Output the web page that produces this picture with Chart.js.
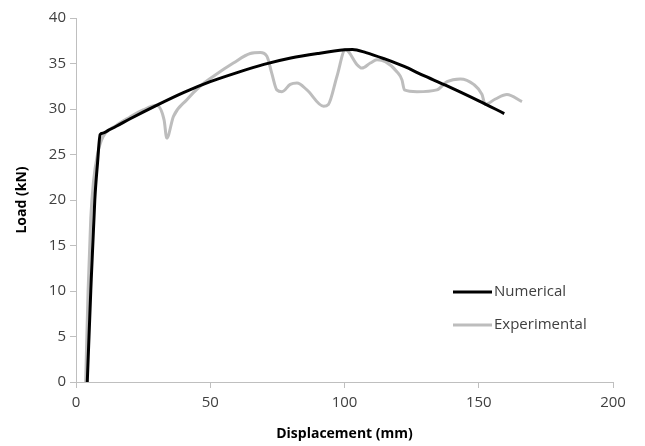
<!DOCTYPE html>
<html>
<head>
<meta charset="utf-8">
<script src="https://cdn.jsdelivr.net/npm/chart.js@4"></script>
<style>
  body { margin: 0; background: #fff; }
</style>
</head>
<body>
<canvas id="myChart" width="645" height="446"></canvas>
<script>
// Numerical curve (displacement mm, load kN)
const numX = [4.2, 5.5, 7, 8, 9, 10, 12, 15, 20, 30, 40, 50, 60, 70, 80, 90, 100, 103, 108, 115, 122, 130, 140, 150, 159.5];
const numY = [0, 10, 20, 24, 27.2, 27.35, 27.65, 28.1, 28.9, 30.4, 31.8, 33.0, 34.0, 34.9, 35.6, 36.1, 36.5, 36.55, 36.2, 35.5, 34.7, 33.6, 32.3, 30.9, 29.5];

// Experimental curve
const expX = [3.6, 4.5, 5.5, 6.5, 8, 10, 15, 20, 25, 30, 32.8, 33.8, 36.3, 41.2, 46.2, 51.2, 58.6, 64.9, 68.6, 71.1, 72.9, 74.8, 76.7, 79.8, 82.3, 86, 92.2, 94, 97.2, 100.3, 101.5, 104.6, 106.5, 109.6, 112.1, 115.2, 119.5, 121.4, 122.3, 127, 134.4, 138.2, 143.1, 148.1, 151.2, 152.4, 156.2, 160.5, 166.1];
const expY = [0, 10, 18, 22, 25, 26.9, 28.2, 29.1, 29.9, 30.4, 28.8, 26.8, 29.2, 31.0, 32.5, 33.6, 35.05, 36.1, 36.2, 35.8, 33.95, 32.1, 31.9, 32.7, 32.85, 32.1, 30.3, 30.5, 33.6, 36.5, 36.3, 34.9, 34.5, 35.05, 35.4, 35.2, 34.1, 33.2, 32.1, 31.9, 32.1, 33.0, 33.3, 32.7, 31.6, 30.5, 31.1, 31.6, 30.8];

const seriesNames = ['Numerical', 'Experimental'];
const xTicks = [0, 50, 100, 150, 200];
const yTicks = [0, 5, 10, 15, 20, 25, 30, 35, 40];

const toPoints = (xs, ys) => xs.map((x, i) => ({ x: x, y: ys[i] }));

const FONT = "'Open Sans', 'Liberation Sans', sans-serif";
const TEXT = '#404040';
const AXIS = '#bfbfbf';

// legend drawn inside the plot, bottom right
const insideLegend = {
    id: 'insideLegend',
    afterDraw(chart) {
        const c = chart.ctx;
        const rows = [
            { name: seriesNames[0], color: '#000000', y: 292 },
            { name: seriesNames[1], color: '#bdbdbd', y: 325 }
        ];
        c.save();
        c.font = '15px ' + FONT;
        c.textBaseline = 'middle';
        rows.forEach(r => {
            c.strokeStyle = r.color;
            c.lineWidth = 3;
            c.beginPath();
            c.moveTo(453, r.y);
            c.lineTo(492, r.y);
            c.stroke();
            c.fillStyle = TEXT;
            c.fillText(r.name, 494, r.y);
        });
        c.restore();
    }
};

const ctx = document.getElementById('myChart');
const chart = new Chart(ctx, {
    type: 'line',
    data: {
        datasets: [{
            label: seriesNames[0],
            data: toPoints(numX, numY),
            borderColor: '#000000',
            borderWidth: 3,
            pointRadius: 0,
            cubicInterpolationMode: 'monotone'
        }, {
            label: seriesNames[1],
            data: toPoints(expX, expY),
            borderColor: '#bdbdbd',
            borderWidth: 3,
            pointRadius: 0,
            cubicInterpolationMode: 'monotone'
        }]
    },
    options: {
        responsive: false,
        animation: false,
        layout: {
            padding: { left: 0, right: 32, top: 18, bottom: 0 }
        },
        plugins: {
            legend: { display: false },
            tooltip: { enabled: false }
        },
        scales: {
            x: {
                type: 'linear',
                min: 0,
                max: 200,
                afterBuildTicks: s => { s.ticks = xTicks.map(v => ({ value: v })); },
                afterFit: s => { s.height = 64; },
                ticks: { color: TEXT, font: { family: FONT, size: 15 }, padding: 6 },
                grid: { drawOnChartArea: false, drawTicks: true, tickLength: 6, color: AXIS },
                border: { color: AXIS, width: 1 },
                title: {
                    display: true,
                    text: 'Displacement (mm)',
                    color: '#000',
                    font: { family: FONT, size: 14, weight: 'bold' },
                    padding: { top: 6 }
                }
            },
            y: {
                min: 0,
                max: 40,
                afterBuildTicks: s => { s.ticks = yTicks.map(v => ({ value: v })); },
                afterFit: s => { s.width = 76; },
                ticks: { color: TEXT, font: { family: FONT, size: 15 }, padding: 4 },
                grid: { drawOnChartArea: false, drawTicks: true, tickLength: 6, color: AXIS },
                border: { color: AXIS, width: 1 },
                title: {
                    display: true,
                    text: 'Load (kN)',
                    color: '#000',
                    font: { family: FONT, size: 14, weight: 'bold' },
                    padding: { top: 14, bottom: 0 }
                }
            }
        }
    },
    plugins: [insideLegend]
});
</script>
</body>
</html>
